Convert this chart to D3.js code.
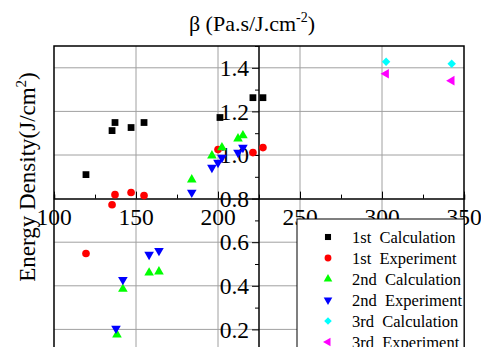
<!DOCTYPE html>
<html lang="en">
<head>
    <meta charset="UTF-8">
    <title>Energy Density vs beta</title>
    <script src="https://cdnjs.cloudflare.com/ajax/libs/d3/7.9.0/d3.min.js"></script>
    <style>
        body { margin: 0; background: #fff; }
        svg text { font-family: "Liberation Serif", "Tinos", "Times New Roman", "DejaVu Serif", serif; }
        .grid line { stroke: #a0a0a0; stroke-width: 1; }
        .tick-label { font-size: 23.5px; fill: #000; }
        .legend text { font-size: 16.5px; white-space: pre; }
    </style>
</head>
<body>
<div id="chart"></div>
<script>
    // data
    const calc1X = [119.5, 135.4, 137.2, 147, 154.9, 201.2, 221.3, 227.4];
    const calc1Y = [0.91, 1.112, 1.149, 1.126, 1.149, 1.172, 1.263, 1.263];
    const exp1X = [119.5, 135.4, 137.2, 147, 154.9, 200, 221.3, 227.4];
    const exp1Y = [0.548, 0.772, 0.818, 0.828, 0.814, 1.025, 1.011, 1.034];
    const calc2X = [138.4, 142, 158, 164, 184, 196.3, 202.4, 212.2, 215.2];
    const calc2Y = [0.176, 0.385, 0.46, 0.465, 0.887, 0.997, 1.034, 1.075, 1.089];
    const exp2X = [137.8, 142, 158, 164, 184, 196.3, 200, 202.4, 212.2, 215.2];
    const exp2Y = [0.204, 0.428, 0.543, 0.561, 0.828, 0.942, 0.965, 0.988, 1.011, 1.034];
    const calc3X = [302.5, 342.5];
    const calc3Y = [1.428, 1.419];
    const exp3X = [302.5, 342.5];
    const exp3Y = [1.373, 1.341];

    const xTicks = [100, 150, 200, 250, 300, 350];
    const yTicks = [0.2, 0.4, 0.6, 0.8, 1.0, 1.2, 1.4];

    const width = 481, height = 347;
    const svg = d3.select("#chart").append("svg")
        .attr("width", width)
        .attr("height", height)
        .attr("font-family", "Liberation Serif, serif");

    const x = d3.scaleLinear().domain([100, 350]).range([54, 464]);
    const y = d3.scaleLinear().domain([0, 1.5]).range([373, 46]);
    const xCross = 225, yCross = 0.8; // where the axes cross

    // grid
    const grid = svg.append("g").attr("class", "grid");
    grid.selectAll(".gx").data(xTicks.slice(1, -1)).enter().append("line")
        .attr("x1", d => x(d)).attr("x2", d => x(d))
        .attr("y1", y(1.5)).attr("y2", height);
    grid.selectAll(".gy").data(yTicks.filter(d => d !== yCross)).enter().append("line")
        .attr("x1", x(100)).attr("x2", x(350))
        .attr("y1", d => y(d)).attr("y2", d => y(d));

    // frame
    svg.append("path")
        .attr("d", `M${x(100)},${height}V${y(1.5)}H${x(350)}V${height}`)
        .attr("fill", "none").attr("stroke", "#000").attr("stroke-width", 1.5);

    // x axis (ticks point up, into the plot)
    const xAxis = svg.append("g")
        .attr("transform", `translate(0,${y(yCross)})`)
        .call(d3.axisTop(x).tickValues(d3.range(100, 351, 25)).tickSize(4).tickFormat(""));
    xAxis.select(".domain").attr("stroke-width", 1.5);
    xAxis.selectAll(".tick line").attr("y2", d => d % 50 === 0 ? -7 : -4);
    svg.selectAll(".xlab").data(xTicks).enter().append("text")
        .attr("class", "tick-label")
        .attr("x", d => x(d)).attr("y", y(yCross) + 26)
        .attr("text-anchor", "middle")
        .text(d => d);

    // y axis, drawn at beta = 225
    const yAxis = svg.append("g")
        .attr("transform", `translate(${x(xCross)},0)`)
        .call(d3.axisLeft(y).tickValues(d3.range(0.1, 1.51, 0.1)).tickSize(4).tickFormat(""));
    yAxis.select(".domain").attr("stroke-width", 1.5).attr("d", `M0,${height}V${y(1.5)}`);
    yAxis.selectAll(".tick line").attr("x2", d => Math.round(d * 10) % 2 === 0 ? -7 : -4);
    svg.selectAll(".ylab").data(yTicks).enter().append("text")
        .attr("class", "tick-label")
        .attr("x", x(xCross) - 10).attr("y", d => y(d))
        .attr("dy", "0.35em")
        .attr("text-anchor", "end")
        .text(d => d.toFixed(1));

    // titles
    const title = svg.append("text")
        .attr("x", 252).attr("y", 31)
        .attr("text-anchor", "middle")
        .style("font-size", "22px");
    title.append("tspan").text("β (Pa.s/J.cm");
    title.append("tspan").attr("dy", -9).style("font-size", "14px").text("-2");
    title.append("tspan").attr("dy", 9).text(")");

    const ylabel = svg.append("text")
        .attr("transform", "translate(35,177) rotate(-90)")
        .attr("text-anchor", "middle")
        .style("font-size", "23px");
    ylabel.append("tspan").text("Energy Density(J/cm");
    ylabel.append("tspan").attr("dy", -9).style("font-size", "15px").text("2");
    ylabel.append("tspan").attr("dy", 9).text(")");

    // series
    const series = [
        { name: "1st  Calculation", xs: calc1X, ys: calc1Y, color: "#000000", type: d3.symbolSquare, size: 46, rot: 0 },
        { name: "1st  Experiment", xs: exp1X, ys: exp1Y, color: "#ff0000", type: d3.symbolCircle, size: 46, rot: 0 },
        { name: "2nd  Calculation", xs: calc2X, ys: calc2Y, color: "#00ff00", type: d3.symbolTriangle, size: 40, rot: 0 },
        { name: "2nd  Experiment", xs: exp2X, ys: exp2Y, color: "#0000ff", type: d3.symbolTriangle, size: 40, rot: 180 },
        { name: "3rd  Calculation", xs: calc3X, ys: calc3Y, color: "#00ffff", type: d3.symbolSquare, size: 36, rot: 45 },
        { name: "3rd  Experiment", xs: exp3X, ys: exp3Y, color: "#ff00ff", type: d3.symbolTriangle, size: 40, rot: -90 }
    ];

    series.forEach(s => {
        const pts = s.xs.map((v, i) => [v, s.ys[i]]);
        svg.append("g").selectAll("path").data(pts).enter().append("path")
            .attr("d", d3.symbol().type(s.type).size(s.size))
            .attr("transform", d => `translate(${x(d[0])},${y(d[1])}) rotate(${s.rot})`)
            .attr("fill", s.color);
    });

    // legend
    const legend = svg.append("g").attr("class", "legend");
    legend.append("rect")
        .attr("x", 297).attr("y", 219)
        .attr("width", x(350) - 297).attr("height", 200)
        .attr("fill", "#fff").attr("stroke", "#000").attr("stroke-width", 1);
    const rows = legend.selectAll(".row").data(series).enter().append("g")
        .attr("transform", (d, i) => `translate(0,${237 + i * 21})`);
    rows.append("path")
        .attr("d", d => d3.symbol().type(d.type).size(d.size * 0.8)())
        .attr("transform", d => `translate(328,0) rotate(${d.rot})`)
        .attr("fill", d => d.color);
    rows.append("text")
        .attr("x", 352).attr("y", 6)
        .text(d => d.name);
</script>
</body>
</html>
